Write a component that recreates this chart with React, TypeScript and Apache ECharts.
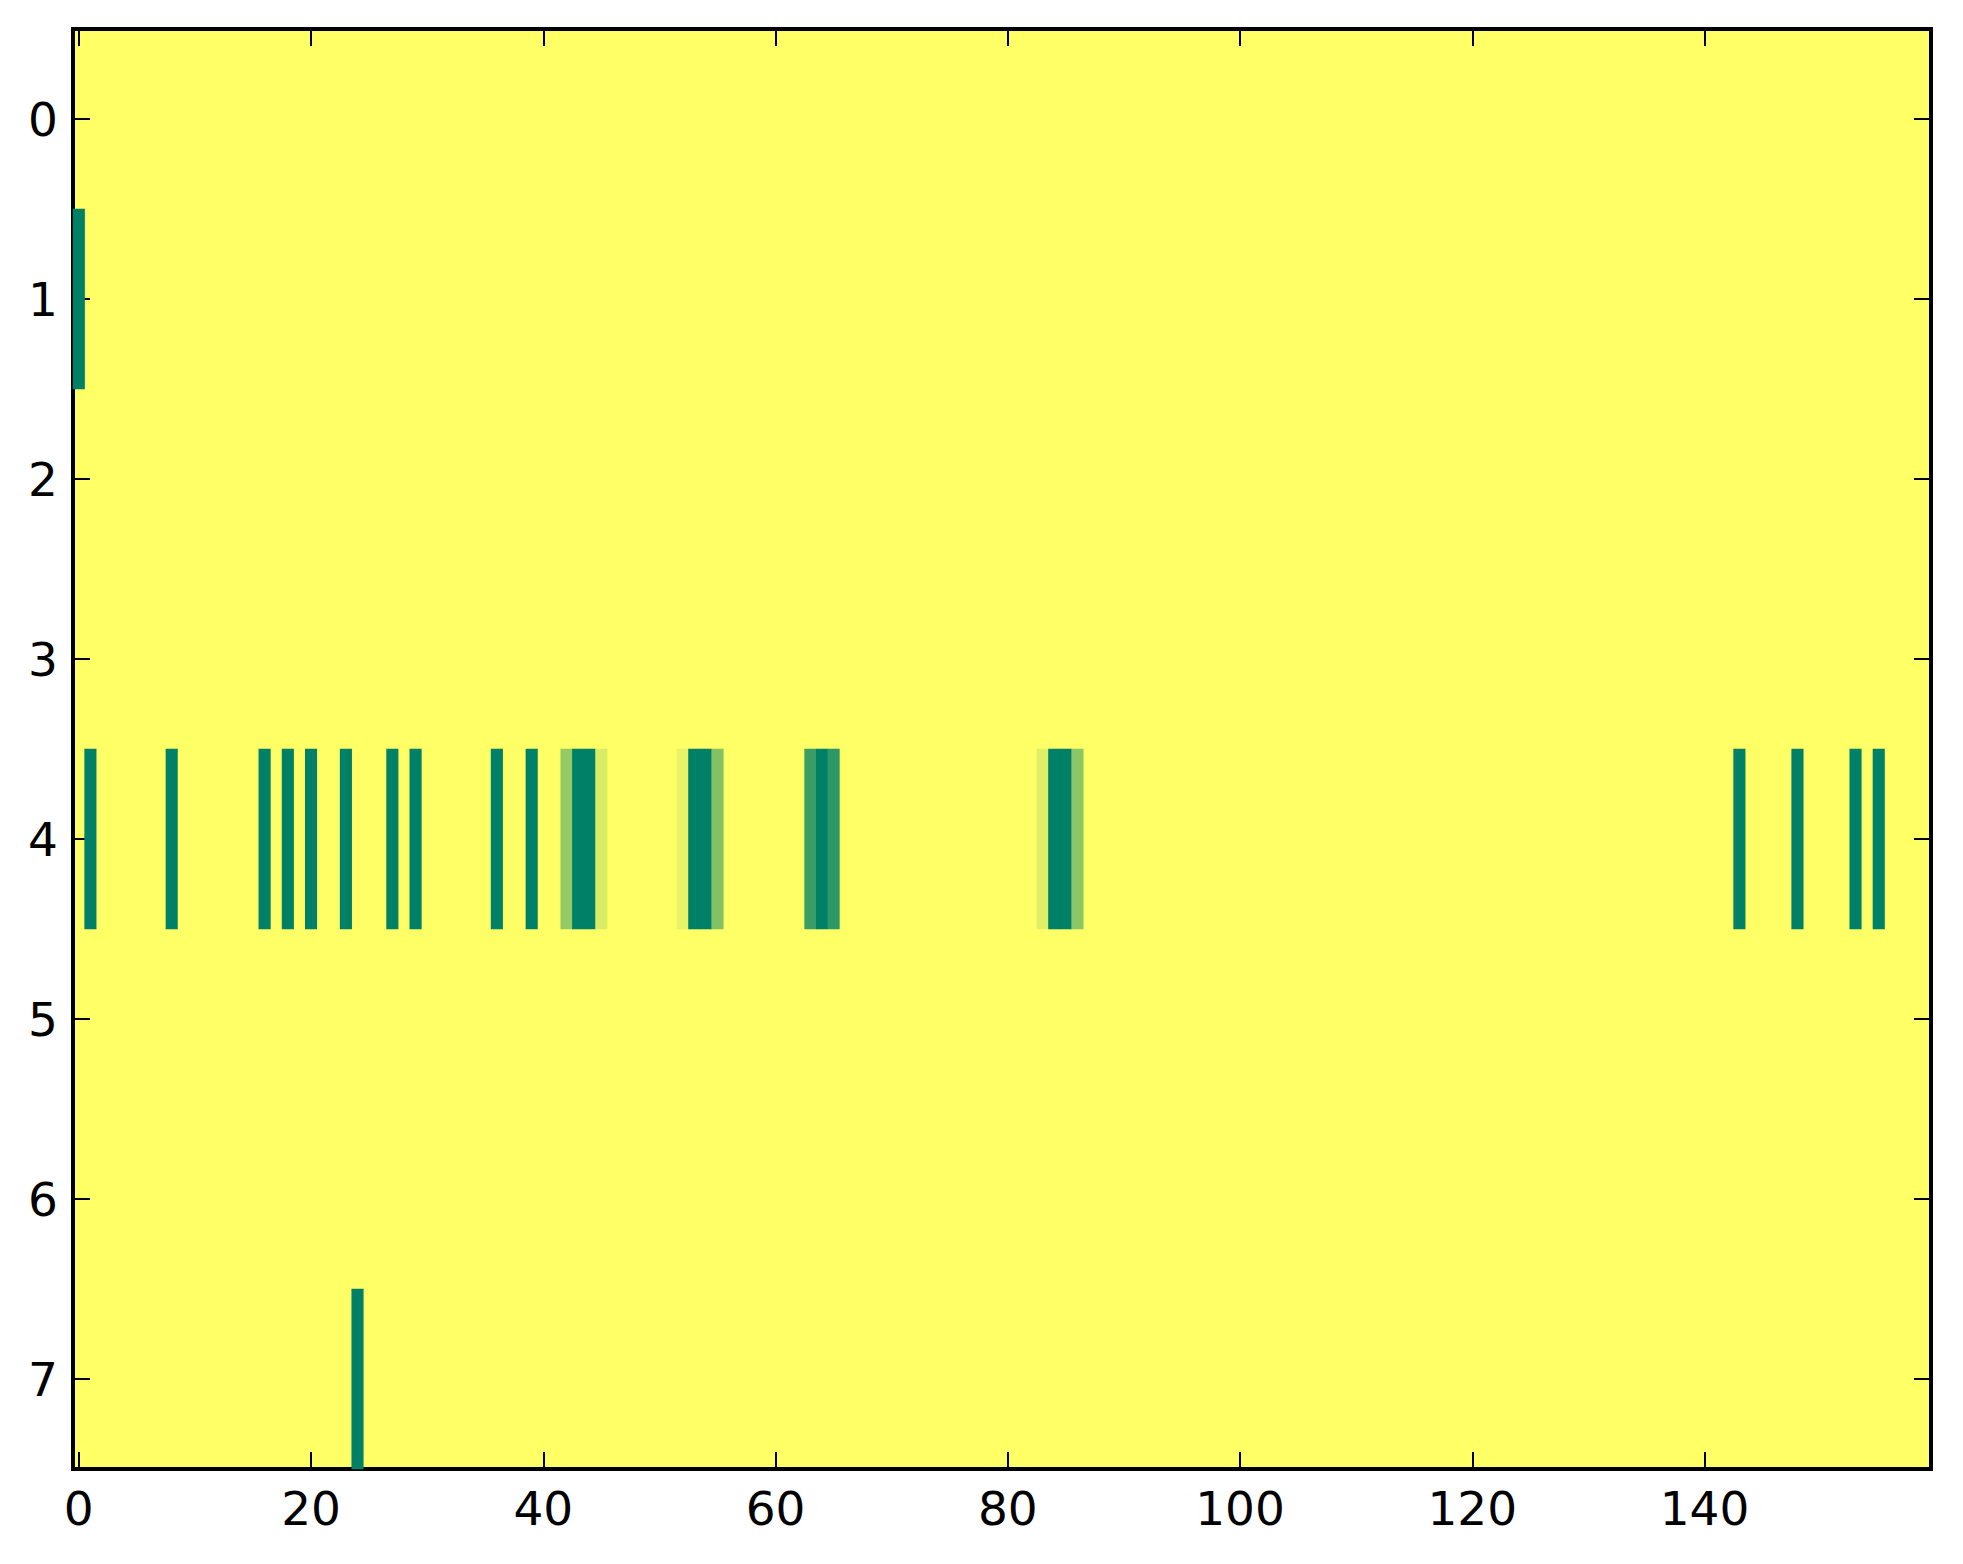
import { useEffect, useRef } from "react";
import * as echarts from "echarts";

// columns 0..159, rows 0..7 (imshow style grid)
const colCount = 160;
const rowLabels = ["0", "1", "2", "3", "4", "5", "6", "7"];
const xTickStep = 20;

// non-zero cells, by row (values normalised 0..1)
const row1Cols = [0];
const row1Vals = [1];

const row4Cols = [
  1, 8, 16, 18, 20, 23, 27, 29, 36, 39, 42, 43, 44, 45, 52, 53, 54, 55, 63, 64,
  65, 83, 84, 85, 86, 143, 148, 153, 155,
];
const row4Vals = [
  1, 1, 1, 1, 1, 1, 1, 1, 1, 1, 0.42, 1, 1, 0.15, 0.09, 1, 1, 0.49, 0.77, 1,
  0.82, 0.12, 1, 1, 0.45, 1, 1, 1, 1,
];

const row7Cols = [24];
const row7Vals = [1];

const App = () => {
  const chartRef = useRef(null);

  useEffect(() => {
    document.body.style.margin = "0";
    const chart = echarts.init(chartRef.current, null, { renderer: "svg" });

    const categories = Array.from({ length: colCount }, (_, i) => String(i));
    const cells = [
      ...row1Cols.map((c, i) => [c, 1, row1Vals[i]]),
      ...row4Cols.map((c, i) => [c, 4, row4Vals[i]]),
      ...row7Cols.map((c, i) => [c, 7, row7Vals[i]]),
    ];

    const font = { fontFamily: "DejaVu Sans", fontSize: 47, color: "#000" };
    const everyTwenty = (idx: number) => idx % xTickStep === 0;
    const tick = { show: true, inside: true, length: 17, lineStyle: { color: "#000", width: 2 } };

    const options = {
      animation: false,
      grid: {
        left: 73,
        top: 29,
        width: 1858,
        height: 1440,
        show: true,
        backgroundColor: "#ffff66",
        borderColor: "#000",
        borderWidth: 4,
      },
      xAxis: [
        {
          type: "category",
          data: categories,
          position: "bottom",
          axisLine: { show: false },
          axisTick: { ...tick, alignWithLabel: true, interval: everyTwenty },
          axisLabel: { ...font, interval: everyTwenty, margin: 16 },
          splitLine: { show: false },
        },
        {
          type: "category",
          data: categories,
          position: "top",
          axisLine: { show: false },
          axisTick: { ...tick, alignWithLabel: true, interval: everyTwenty },
          axisLabel: { show: false },
        },
      ],
      yAxis: [
        {
          type: "category",
          data: rowLabels,
          inverse: true,
          position: "left",
          axisLine: { show: false },
          axisTick: { ...tick, alignWithLabel: true },
          axisLabel: { ...font, interval: 0, margin: 15 },
        },
        {
          type: "category",
          data: rowLabels,
          inverse: true,
          position: "right",
          axisLine: { show: false },
          axisTick: { ...tick, alignWithLabel: true },
          axisLabel: { show: false },
        },
      ],
      visualMap: {
        show: false,
        min: 0,
        max: 1,
        inRange: { color: ["#ffff66", "#008066"] },
      },
      series: [
        {
          type: "heatmap",
          xAxisIndex: 0,
          yAxisIndex: 0,
          data: cells,
          itemStyle: { borderWidth: 0 },
          emphasis: { disabled: true },
        },
      ],
    };

    chart.setOption(options);

    return () => {
      chart.dispose();
    };
  }, []);

  return <div ref={chartRef} style={{ width: "1963px", height: "1564px" }} />;
};

export default App;
